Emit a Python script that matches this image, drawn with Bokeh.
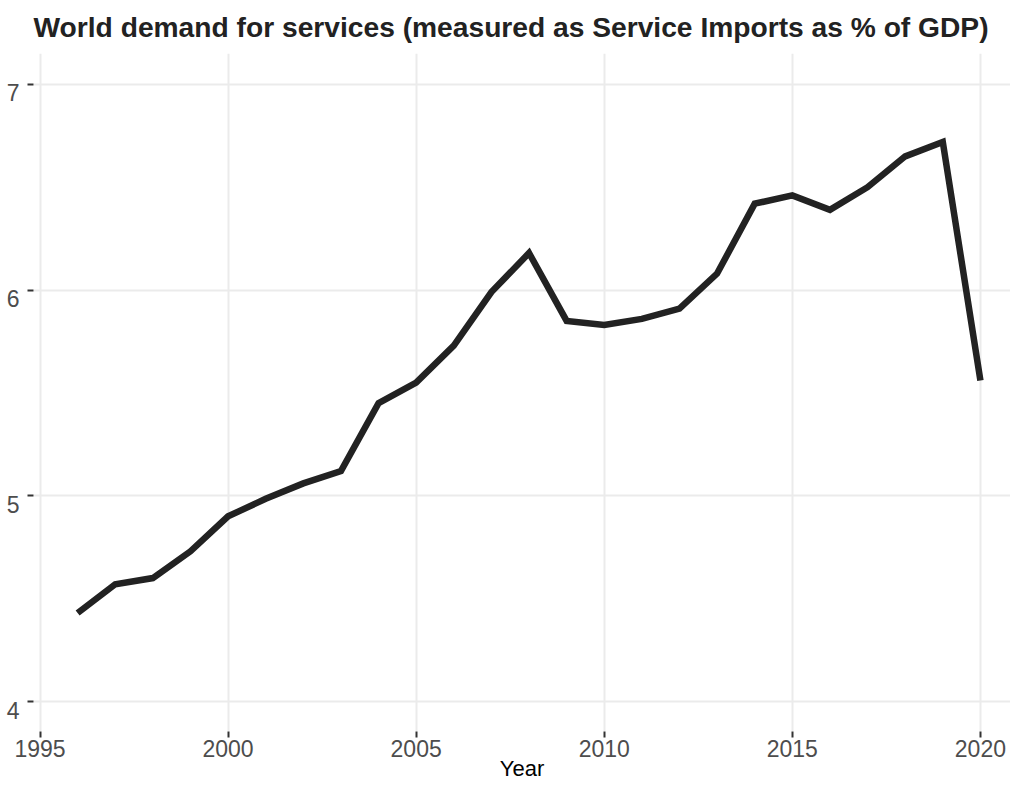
from bokeh.plotting import figure
from bokeh.models import Range1d, FixedTicker
from bokeh.embed import file_html
from bokeh.resources import INLINE

years = list(range(1996, 2021))
values = [4.43, 4.57, 4.60, 4.73, 4.90, 4.985, 5.06, 5.12, 5.45, 5.55, 5.73, 5.99,
          6.18, 5.85, 5.83, 5.86, 5.91, 6.08, 6.42, 6.46, 6.39, 6.50, 6.65, 6.72, 5.56]
x_ticks = [1995, 2000, 2005, 2010, 2015, 2020]
y_ticks = [4, 5, 6, 7]
y_tick_labels = {4: "\n4", 5: "\n5", 6: "\n6", 7: "\n7"}

FONT = "Liberation Sans"

p = figure(width=1010, height=783, output_backend="svg", toolbar_location=None,
           x_range=Range1d(1994.827, 2020.80), y_range=Range1d(3.854, 7.15),
           min_border_left=33, min_border_right=0, min_border_top=53, min_border_bottom=0,
           title="World demand for services (measured as Service Imports as % of GDP)")
p.outline_line_color = None
p.background_fill_color = "white"
p.border_fill_color = "white"

p.title.text_font = FONT
p.title.text_font_size = "28.2px"
p.title.text_font_style = "bold"
p.title.text_color = "#222222"
p.title.align = "left"
p.title.vertical_align = "top"
p.title.offset = 0
p.title.standoff = 17

p.line(years, values, line_width=6.5, line_color="#222222", line_join="miter", line_cap="butt")

for ax in (p.xaxis[0], p.yaxis[0]):
    ax.axis_line_color = None
    ax.major_tick_line_color = "#333333"
    ax.major_tick_line_width = 2
    ax.major_tick_in = 0
    ax.major_tick_out = 6
    ax.minor_tick_line_color = None
    ax.major_label_text_font = FONT
    ax.major_label_text_font_size = "23px"
    ax.major_label_text_color = "#4d4d4d"
    ax.axis_label_text_font = FONT
    ax.axis_label_text_font_style = "normal"

p.xaxis.ticker = FixedTicker(ticks=x_ticks)
p.yaxis.ticker = FixedTicker(ticks=y_ticks)
p.yaxis.major_label_overrides = y_tick_labels
p.yaxis.major_label_text_line_height = 0.7
p.xaxis.axis_label = "Year"
p.xaxis.axis_label_text_font_size = "22px"
p.xaxis.axis_label_text_color = "#000000"
p.xaxis.axis_label_standoff = -4
p.xaxis.major_label_standoff = 2
p.yaxis.major_label_standoff = 8

p.xgrid.ticker = FixedTicker(ticks=x_ticks)
p.ygrid.ticker = FixedTicker(ticks=y_ticks)
p.grid.grid_line_color = "#ebebeb"
p.grid.grid_line_width = 2

open("out.html", "w").write(file_html(p, INLINE))
